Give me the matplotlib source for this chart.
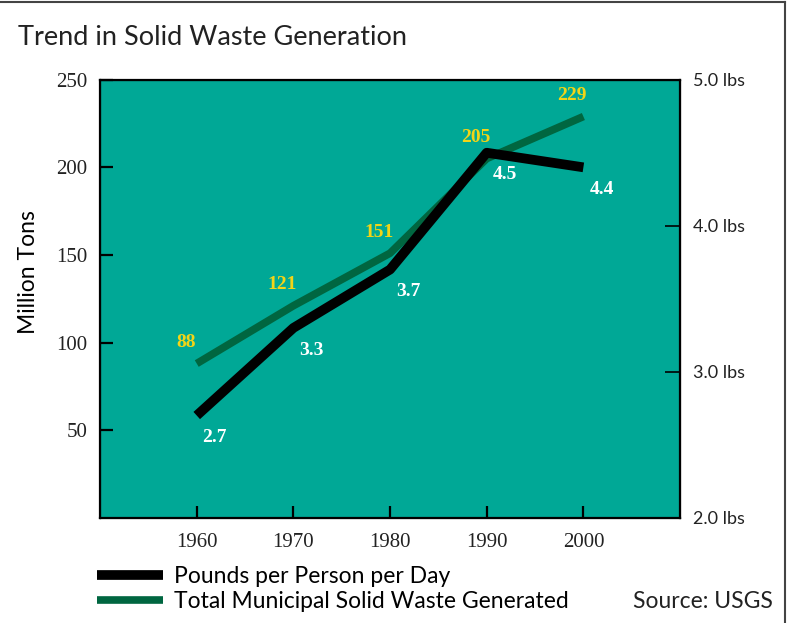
import matplotlib.pyplot as plt
from matplotlib.lines import Line2D

# datos
years = [1960, 1970, 1980, 1990, 2000]
million_tons = [88, 121, 151, 205, 229]
lbs_per_day = [2.7, 3.3, 3.7, 4.5, 4.4]
tons_labels = ['88', '121', '151', '205', '229']
lbs_labels = ['2.7', '3.3', '3.7', '4.5', '4.4']
left_ticks = [50, 100, 150, 200, 250]
right_ticks = [2.0, 3.0, 4.0, 5.0]
right_ticklabels = ['2.0 lbs', '3.0 lbs', '4.0 lbs', '5.0 lbs']

teal = '#00A896'
green = '#006640'
yellow = '#F2D417'
sans = 'Lato'
serif = 'Liberation Serif'

fig = plt.figure(figsize=(7.88, 6.23), dpi=100)
ax = fig.add_axes([0.127, 0.169, 0.736, 0.703])
ax.set_facecolor(teal)
ax.set_xlim(1950, 2010)
ax.set_ylim(0, 250)
ax.set_xticks(years)
ax.set_yticks(left_ticks)
for sp in ax.spines.values():
    sp.set_linewidth(1.6)
ax.tick_params(axis='both', direction='in', length=9, width=1.6, labelsize=15)
ax.tick_params(axis='y', pad=9)
ax.tick_params(axis='x', pad=11)
for lbl in ax.get_xticklabels() + ax.get_yticklabels():
    lbl.set_fontfamily(serif)
    lbl.set_color('#222222')
ax.set_ylabel('Million Tons', fontsize=16.5, family=sans)
ax.yaxis.set_label_coords(-0.105, 0.56)

ax2 = ax.twinx()
ax2.set_ylim(2.0, 5.0)
ax2.set_yticks(right_ticks)
ax2.set_yticklabels(right_ticklabels, fontsize=13, family=sans, color='#222222')
ax2.tick_params(axis='y', direction='in', length=11, width=1.2, pad=9)

# linea verde (toneladas) y negra (libras)
g_line, = ax.plot(years, million_tons, color=green, lw=5.5, solid_capstyle='butt',
                  label='Total Municipal Solid Waste Generated')
k_line, = ax2.plot(years, lbs_per_day, color='black', lw=7, solid_capstyle='butt',
                   label='Pounds per Person per Day')

for x, y, t in zip(years, million_tons, tons_labels):
    ax.annotate(t, (x, y), xytext=(-8, 15), textcoords='offset points', ha='center',
                va='center', color=yellow, fontsize=14, fontweight='bold', family=serif)
for x, y, t in zip(years, lbs_per_day, lbs_labels):
    ax2.annotate(t, (x, y), xytext=(13, -16), textcoords='offset points', ha='center',
                 va='center', color='white', fontsize=14, fontweight='bold', family=serif)

fig.text(0.023, 0.94, 'Trend in Solid Waste Generation', fontsize=19.5, family=sans,
         color='#222222', va='center')

fig.legend(handles=[k_line, g_line], loc='upper left', bbox_to_anchor=(0.123, 0.092),
           frameon=False, handlelength=2.9, handletextpad=0.45, labelspacing=0.2,
           prop={'family': sans, 'size': 16.5}, borderpad=0, borderaxespad=0)

fig.text(0.981, 0.035, 'Source: USGS', fontsize=16.5, family=sans, ha='right', va='center',
         color='#222222')

# marco superior y derecho
fig.add_artist(Line2D([0, 0.996], [0.997, 0.997], color='#444444', lw=1.5))
fig.add_artist(Line2D([0.996, 0.996], [0.997, 0], color='#444444', lw=1.5))

plt.savefig('out.png', dpi=100)
